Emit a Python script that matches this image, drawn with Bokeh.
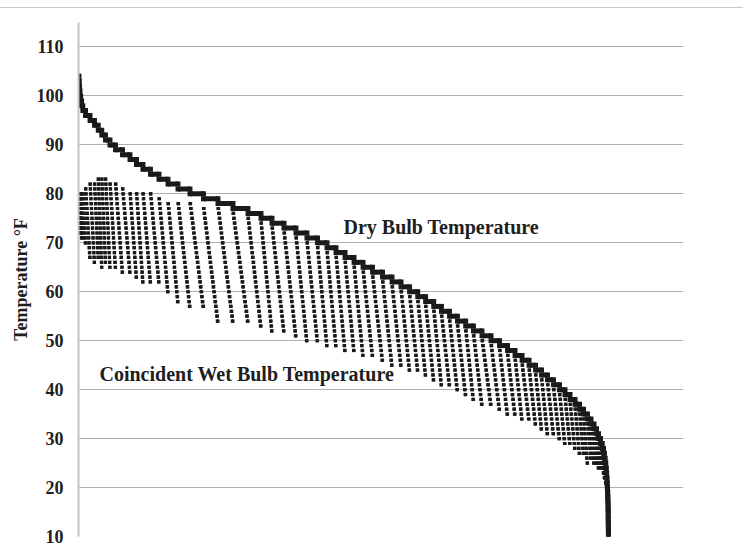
from bokeh.plotting import figure
from bokeh.models import Range1d, FixedTicker, Label, Div, ColumnDataSource
from bokeh.layouts import column
from bokeh.embed import file_html
from bokeh.resources import INLINE

# Dry bulb temperature (deg F), from hottest to coldest
db_temp = [104, 103, 102, 101, 100, 99, 98, 97, 96, 95, 94, 93, 92, 91, 90,
           89, 88, 87, 86, 85, 84, 83, 82, 81, 80, 79, 78, 77, 76, 75, 74, 73,
           72, 71, 70, 69, 68, 67, 66, 65, 64, 63, 62, 61, 60, 59, 58, 57, 56,
           55, 54, 53, 52, 51, 50, 49, 48, 47, 46, 45, 44, 43, 42, 41, 40, 39,
           38, 37, 36, 35, 34, 33, 32, 31, 30, 29, 28, 27, 26, 25, 24, 23, 22,
           21, 20, 19, 18, 17, 16, 15, 14, 13, 12, 11, 10]
# Hours of the year at each dry bulb temperature (read from step widths)
db_hours = [7, 4, 6, 7, 11, 15, 21, 45, 74, 74, 62, 58, 62, 74, 91,
            116, 124, 107, 107, 124, 141, 149, 165, 198, 223, 240, 248, 248, 215, 182, 198, 198,
            182, 174, 157, 149, 149, 149, 149, 157, 165, 157, 149, 141, 135, 130, 134, 128, 133,
            131, 136, 129, 141, 149, 141, 132, 124, 116, 116, 107, 99, 99, 99, 99, 91, 83,
            83, 74, 66, 66, 58, 50, 41, 33, 33, 29, 21, 15, 12, 10, 8, 7, 5,
            5, 4, 3, 3, 3, 1, 1, 1, 1, 1, 1, 1]
# Highest and lowest coincident wet bulb temperature for each dry bulb step
wb_max = [78, 77, 78, 78, 79, 80, 80, 80, 81, 82, 82, 83, 83, 83, 82,
          82, 81, 80, 80, 80, 80, 79, 78, 78, 78, 77, 77, 76, 75, 74, 73, 72,
          71, 70, 69, 68, 67, 66, 65, 64, 63, 62, 61, 60, 59, 58, 57, 56, 55,
          54, 53, 52, 51, 50, 49, 48, 47, 46, 45, 44, 43, 42, 41, 40, 39, 38,
          37, 36, 35, 34, 33, 32, 31, 30, 29, 28, 27, 26, 25, 24, 23, 22, 21,
          20, 19, 18, 17, 16, 15, 14, 13, 12, 11, 10, 9]
wb_min = [74, 74, 73, 72, 72, 71, 71, 70, 67, 66, 67, 65, 66, 65, 65,
          64, 64, 63, 62, 62, 62, 60, 58, 57, 57, 54, 54, 54, 53, 52, 52, 51,
          50, 50, 49, 49, 48, 48, 47, 47, 46, 45, 45, 44, 44, 43, 42, 41, 41,
          40, 39, 38, 37, 37, 36, 35, 35, 34, 34, 33, 32, 31, 31, 30, 29, 29,
          28, 27, 27, 25, 26, 25, 25, 24, 24, 24, 23, 22, 22, 21, 21, 20, 19,
          18, 18, 17, 16, 15, 15, 14, 13, 12, 11, 10, 9]
y_ticks = [10, 20, 30, 40, 50, 60, 70, 80, 90, 100, 110]

INK = "#1a1a1a"
TXT = "#1e1e1e"
SERIF = "Liberation Serif"

db_x0, db_x1, db_y = [], [], []
wb_x0, wb_x1, wb_y = [], [], []
start = 1
for t, h, mx, mn in zip(db_temp, db_hours, wb_max, wb_min):
    db_x0.append(start)
    db_x1.append(start + h - 1)
    db_y.append(t)
    n = mx - mn + 1
    for k in range(n):
        a = start + h * k / n
        b = max(a, start + h * (k + 1) / n - 1)
        wb_x0.append(a)
        wb_x1.append(b)
        wb_y.append(mx - k)
    start += h

db_src = ColumnDataSource(dict(x0=db_x0, x1=db_x1, y=db_y))
wb_src = ColumnDataSource(dict(x0=wb_x0, x1=wb_x1, y=wb_y))

p = figure(width=743, height=542, x_range=Range1d(0, 10000), y_range=Range1d(10, 115),
           output_backend="svg", toolbar_location=None,
           min_border_left=78, min_border_right=60, min_border_top=14, min_border_bottom=14)
p.outline_line_color = None
p.background_fill_color = "white"
p.border_fill_color = "white"

p.xaxis.visible = False
p.xgrid.visible = False
p.yaxis.ticker = FixedTicker(ticks=y_ticks)
p.ygrid.ticker = FixedTicker(ticks=y_ticks)
p.ygrid.grid_line_color = "#b0b0b0"
p.ygrid.grid_line_width = 1
p.yaxis.axis_line_color = "#c4c4c4"
p.yaxis.axis_line_width = 2
p.yaxis.major_tick_line_color = None
p.yaxis.minor_tick_line_color = None
p.yaxis.major_tick_out = 0
p.yaxis.major_label_standoff = 15
p.yaxis.major_label_text_font = SERIF
p.yaxis.major_label_text_font_style = "bold"
p.yaxis.major_label_text_font_size = "18px"
p.yaxis.major_label_text_color = TXT
p.yaxis.axis_label = "Temperature °F"
p.yaxis.axis_label_text_font = SERIF
p.yaxis.axis_label_text_font_style = "bold"
p.yaxis.axis_label_text_font_size = "18px"
p.yaxis.axis_label_text_color = TXT
p.yaxis.axis_label_standoff = 3

# wet bulb
p.segment(x0="x0", y0="y", x1="x1", y1="y", source=wb_src, line_color=INK, line_width=3.2, line_cap="butt")
p.scatter(x="x0", y="y", source=wb_src, marker="square", size=3.2, fill_color=INK, line_color=None)
p.scatter(x="x1", y="y", source=wb_src, marker="square", size=3.2, fill_color=INK, line_color=None)
# dry bulb
p.segment(x0="x0", y0="y", x1="x1", y1="y", source=db_src, line_color=INK, line_width=5, line_cap="butt")
p.scatter(x="x0", y="y", source=db_src, marker="square", size=5, fill_color=INK, line_color=None)
p.scatter(x="x1", y="y", source=db_src, marker="square", size=5, fill_color=INK, line_color=None)

p.add_layout(Label(x=4380, y=73.3, text="Dry Bulb Temperature", text_font=SERIF,
                   text_font_style="bold", text_font_size="20px", text_color=TXT,
                   text_baseline="alphabetic"))
p.add_layout(Label(x=347, y=43.1, text="Coincident Wet Bulb Temperature", text_font=SERIF,
                   text_font_style="bold", text_font_size="20px", text_color=TXT,
                   text_baseline="alphabetic"))

top = Div(text="", width=743, height=8, margin=0,
          styles={"border-bottom": "1px solid #c8c8c8", "box-sizing": "border-box"})
layout = column(top, p, spacing=0)

open("out.html", "w").write(file_html(layout, INLINE))
